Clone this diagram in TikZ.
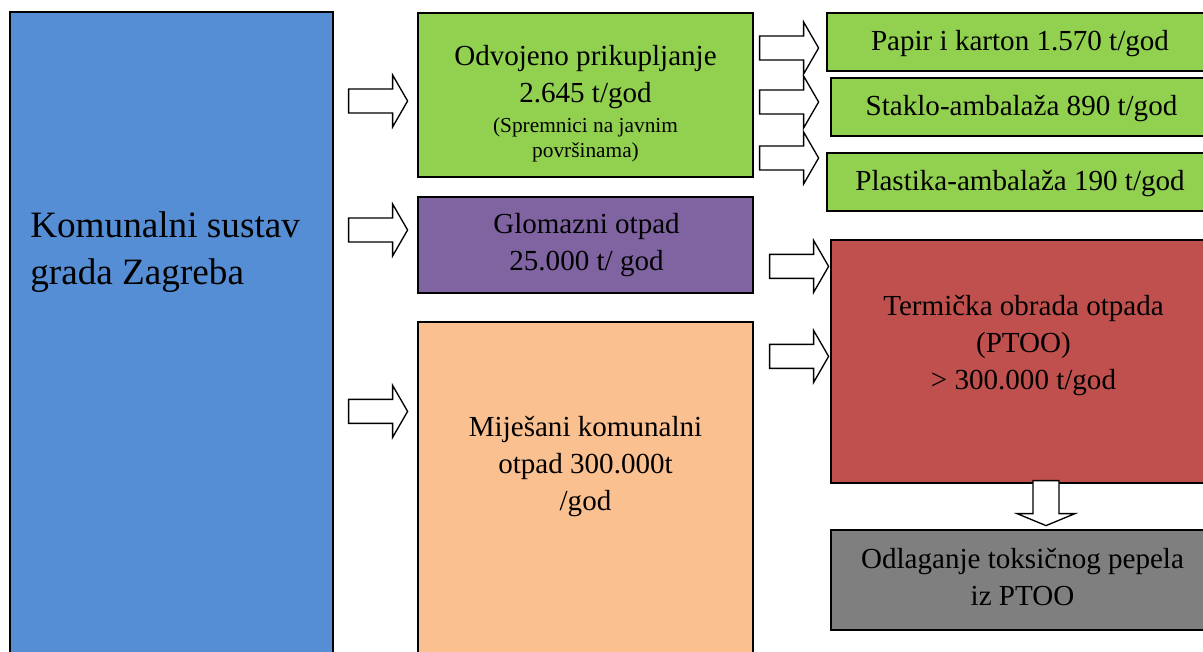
\documentclass[tikz,border=0pt]{standalone}
\usepackage{fontspec}
\setmainfont{Liberation Serif}
\usetikzlibrary{calc}
\usetikzlibrary{positioning}

\definecolor{zgblue}{HTML}{558ED5}
\definecolor{zggreen}{HTML}{92D050}
\definecolor{zgpurple}{HTML}{8064A2}
\definecolor{zgorange}{HTML}{FAC090}
\definecolor{zgred}{HTML}{C0504D}
\definecolor{zggray}{HTML}{7F7F7F}

\newcommand{\mainfnt}{\fontsize{21.8}{27.75}\selectfont}
\newcommand{\smallfnt}{\fontsize{16}{18.75}\selectfont}
\newcommand{\bigfnt}{\fontsize{27.9}{35.25}\selectfont}

% block arrows, #1 = left middle (hblock) or top middle (vblock)
\newcommand{\hblock}[1]{\draw[blockarrow] #1 ++(0,-12) -- ++(44,0) -- ++(0,-14) -- ++(15,26) -- ++(-15,26) -- ++(0,-14) -- ++(-44,0) -- cycle;}
\newcommand{\vblock}[1]{\draw[blockarrow] #1 ++(-13,0) -- ++(0,33) -- ++(-16,0) -- ++(29,12) -- ++(29,-12) -- ++(-16,0) -- ++(0,-33) -- cycle;}

\tikzset{
    box/.style={draw, rectangle, line width=0.9pt, inner sep=0pt},
    txt/.style={align=center, inner sep=0pt, font=\mainfnt},
    blockarrow/.style={draw, fill=white, line width=1pt, line join=miter},
}

\begin{document}
\begin{tikzpicture}[x=0.75pt, y=-0.75pt]
    \useasboundingbox (0,0) rectangle (1203,652);
    \clip (0,0) rectangle (1203,652);

    % boxes
    \node[box, fill=zgblue, minimum width=242.25pt, minimum height=489.75pt] (sustav) at (171.5, 338.5) {};
    \node[box, fill=zggreen, minimum width=251.25pt, minimum height=123pt] (odvojeno) at (585.5, 95) {};
    \node[box, fill=zgpurple, minimum width=251.25pt, minimum height=72pt] (glomazni) at (585.5, 245) {};
    \node[box, fill=zgorange, minimum width=251.25pt, minimum height=257.25pt] (mijesani) at (585.5, 493.5) {};
    \node[box, fill=zggreen, minimum width=291pt, minimum height=43.5pt] (papir) at (1021, 42) {};
    \node[box, fill=zggreen, minimum width=288pt, minimum height=43.5pt] (staklo) at (1023, 107) {};
    \node[box, fill=zggreen, minimum width=291pt, minimum height=43.5pt] (plastika) at (1021, 182) {};
    \node[box, fill=zgred, minimum width=288pt, minimum height=182.25pt] (ptoo) at (1023, 361.5) {};
    \node[box, fill=zggray, minimum width=288pt, minimum height=75pt] (pepeo) at (1023, 580) {};

    % texts (base = last line)
    \node[txt, align=left, font=\bigfnt, anchor=base west] (sustavtxt) at (30, 285) {Komunalni sustav\\grada Zagreba};
    \node[txt, anchor=base] (odvojenotxt) at (585.5, 158) {Odvojeno prikupljanje\\2.645 t/god\\[-5.25pt]{\smallfnt (Spremnici na javnim}\\[-9pt]{\smallfnt površinama)}};
    \node[txt, anchor=base] (glomaznitxt) at (586.5, 271) {Glomazni otpad\\25.000 t/ god};
    \node[txt, anchor=base] (mijesanitxt) at (585.5, 510) {Miješani komunalni\\otpad 300.000t\\/god};
    \node[txt, anchor=base] (papirtxt) at (1020, 51) {Papir i karton 1.570 t/god};
    \node[txt, anchor=base] (staklotxt) at (1021.5, 116) {Staklo-ambalaža 890 t/god};
    \node[txt, anchor=base] (plastikatxt) at (1020, 191) {Plastika-ambalaža 190 t/god};
    \node[txt, anchor=base] (ptootxt) at (1023.5, 389) {Termička obrada otpada\\(PTOO)\\> 300.000 t/god};
    \node[txt, anchor=base] (pepeotxt) at (1022.5, 605) {Odlaganje toksičnog pepela\\iz PTOO};

    % arrows
    \hblock{($(sustav.east |- odvojeno.west)+(15,6)$)}
    \hblock{($(sustav.east |- glomazni.west)+(15,-15)$)}
    \hblock{($(sustav.east |- mijesani.north west)+(15,90)$)}
    \hblock{($(odvojeno.east |- papir.west)+(6,6)$)}
    \hblock{($(odvojeno.east |- staklo.west)+(6,-5)$)}
    \hblock{($(odvojeno.east |- plastika.west)+(6,-24)$)}
    \hblock{($(glomazni.east |- ptoo.north)+(16,27)$)}
    \hblock{($(mijesani.east |- ptoo.north)+(16,117)$)}
    \vblock{($(ptoo.south)+(23,-3)$)}
\end{tikzpicture}
\end{document}
